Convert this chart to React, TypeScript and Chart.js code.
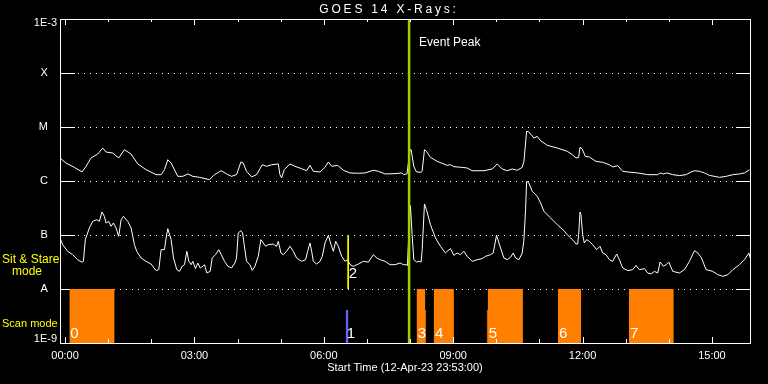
import React, { useEffect, useRef } from 'react';
import { Chart, registerables } from 'chart.js';

Chart.register(...registerables);

const FONT = '"Liberation Sans", Arial, sans-serif';

// Time axis: hours after 00:00 on 13-Apr-23 (plot starts 12-Apr-23 23:53:00)
const X_MIN = -7 / 60;
const X_MAX = 15 + 53 / 60;
const Y_MIN = 1e-9;
const Y_MAX = 1e-3;

// GOES 14 long channel (upper curve)
const longTimes = [
  -0.117, 0.022, 0.216, 0.394, 0.487, 0.603, 0.758, 0.874, 0.951, 1.106, 1.245, 1.377, 1.532, 1.686, 1.88,
  2.112, 2.228, 2.306, 2.383, 2.46, 2.615, 2.731, 2.847, 2.963, 3.118, 3.35, 3.466, 3.621, 3.776,
  3.861, 3.977, 4.078, 4.132, 4.209, 4.326, 4.442, 4.573, 4.674, 4.79, 4.945, 4.983, 5.022, 5.084, 5.216,
  5.332, 5.486, 5.603, 5.68, 5.757, 5.912, 6.028, 6.106, 6.183, 6.322, 6.454, 6.609, 6.802, 6.957, 7.15,
  7.267, 7.421, 7.653, 7.808, 7.855, 7.93, 8.0, 8.025, 8.087, 8.149, 8.257, 8.28, 8.335, 8.381, 8.474,
  8.629, 8.861, 8.938, 9.016, 9.209, 9.325, 9.441, 9.712, 9.906, 10.022, 10.138, 10.254, 10.37, 10.486,
  10.602, 10.641, 10.703, 10.757, 10.873, 10.95, 11.028, 11.183, 11.415, 11.647, 11.763,
  11.848, 11.91, 11.941, 11.988, 12.065, 12.158, 12.313, 12.467, 12.622, 12.7, 12.816, 12.932, 13.048,
  13.28, 13.512, 13.744, 13.799, 13.876, 13.953, 14.093, 14.247, 14.402, 14.518, 14.596, 14.712, 14.828,
  14.944, 15.176, 15.331, 15.486, 15.64, 15.756, 15.872,
];
const longFlux = [
  2.67e-6, 2.15e-6, 1.79e-6, 1.47e-6, 1.87e-6, 2.67e-6, 3.16e-6, 4.08e-6, 3.44e-6, 3.3e-6, 2.67e-6, 3.8e-6, 3.16e-6, 2.07e-6, 1.62e-6,
  1.31e-6, 1.31e-6, 1.62e-6, 2.48e-6, 2.15e-6, 1.22e-6, 1.22e-6, 1.35e-6, 1.22e-6, 1.17e-6, 1.06e-6, 1.31e-6, 1.55e-6, 1.31e-6,
  1.22e-6, 1.31e-6, 2.25e-6, 2.15e-6, 1.51e-6, 1.19e-6, 1.31e-6, 2.0e-6, 1.87e-6, 2.0e-6, 2.07e-6, 1.31e-6, 1.14e-6, 1.62e-6, 2.07e-6,
  1.87e-6, 1.69e-6, 1.55e-6, 1.95e-6, 1.51e-6, 1.47e-6, 1.79e-6, 2.25e-6, 1.87e-6, 1.95e-6, 1.58e-6, 1.41e-6, 1.39e-6, 1.41e-6, 1.58e-6,
  1.51e-6, 1.35e-6, 1.37e-6, 1.41e-6, 1.31e-6, 1.36e-6, 3.8e-6, 3.8e-6, 1.87e-6, 1.47e-6, 1.45e-6, 1.51e-6, 3.8e-6, 3.54e-6, 2.74e-6,
  2.31e-6, 1.95e-6, 2.0e-6, 1.84e-6, 1.79e-6, 1.74e-6, 1.55e-6, 1.55e-6, 1.67e-6, 2.07e-6, 1.67e-6, 1.55e-6, 1.67e-6, 1.58e-6,
  1.79e-6, 2.31e-6, 8.32e-6, 8.07e-6, 6.25e-6, 6.71e-6, 5.58e-6, 4.57e-6, 4.08e-6, 3.54e-6, 3.08e-6,
  2.67e-6, 2.74e-6, 4.2e-6, 3.97e-6, 2.86e-6, 2.78e-6, 2.31e-6, 2.22e-6, 2.0e-6, 1.82e-6, 1.92e-6, 1.51e-6, 1.47e-6,
  1.41e-6, 1.31e-6, 1.31e-6, 1.41e-6, 1.35e-6, 1.41e-6, 1.31e-6, 1.26e-6, 1.31e-6, 1.47e-6, 1.55e-6, 1.51e-6, 1.41e-6,
  1.27e-6, 1.17e-6, 1.22e-6, 1.31e-6, 1.35e-6, 1.41e-6, 1.62e-6,
];

// GOES 14 short channel (lower curve)
const shortTimes = [
  -0.117, -0.055, 0.061, 0.177, 0.293, 0.394, 0.425, 0.471, 0.564, 0.642, 0.734, 0.796, 0.858, 0.912, 0.951,
  1.013, 1.067, 1.121, 1.183, 1.245, 1.3, 1.354, 1.454, 1.532, 1.609, 1.663, 1.764, 1.88, 1.996, 2.112, 2.174,
  2.228, 2.306, 2.344, 2.383, 2.46, 2.515, 2.592, 2.654, 2.716, 2.77, 2.824, 2.87, 2.925, 2.963, 3.025, 3.079,
  3.134, 3.196, 3.234, 3.288, 3.366, 3.412, 3.49, 3.567, 3.621, 3.699, 3.776,
  3.861, 3.939, 3.977, 4.016, 4.078, 4.117, 4.155, 4.209, 4.287, 4.341, 4.403, 4.48, 4.542, 4.596, 4.651,
  4.713, 4.829, 4.906, 4.945, 5.007, 5.061, 5.138, 5.216, 5.293, 5.37, 5.486, 5.579, 5.626, 5.68, 5.719,
  5.757, 5.835, 5.912, 5.966, 6.028, 6.106, 6.168, 6.222, 6.276, 6.338, 6.415, 6.492, 6.554, 6.609, 6.686,
  6.802, 6.918, 7.034, 7.15, 7.228, 7.305, 7.421, 7.537, 7.653, 7.769, 7.847,
  7.917, 7.94, 7.955, 8.01, 8.048, 8.087, 8.149, 8.203, 8.257, 8.28, 8.335, 8.381, 8.474, 8.59, 8.706,
  8.822, 8.861, 8.938, 9.016, 9.093, 9.17, 9.248, 9.325, 9.441, 9.557, 9.673, 9.751, 9.867, 9.929, 10.006,
  10.099, 10.177, 10.254, 10.331, 10.393, 10.448, 10.525, 10.6, 10.64, 10.68, 10.703, 10.757, 10.834, 10.95,
  11.028, 11.105, 11.26, 11.415, 11.57, 11.647, 11.725, 11.802,
  11.848, 11.887, 11.91, 11.941, 11.964, 12.003, 12.042, 12.096, 12.158, 12.235, 12.328, 12.405, 12.467,
  12.545, 12.622, 12.7, 12.792, 12.854, 12.932, 13.048, 13.164, 13.241, 13.319, 13.435, 13.512, 13.59,
  13.667, 13.744, 13.799, 13.876, 13.938, 14.0, 14.093, 14.247, 14.363, 14.479, 14.596, 14.673, 14.751,
  14.867, 15.021, 15.137, 15.254, 15.37, 15.486, 15.64, 15.756, 15.857, 15.888,
];
const shortFlux = [
  8.8e-8, 6.62e-8, 4.99e-8, 4.32e-8, 3.49e-8, 3.12e-8, 3.25e-8, 8.2e-8, 1.35e-7, 1.79e-7, 1.92e-7, 1.79e-7, 2.67e-7, 2.22e-7, 1.67e-7,
  1.79e-7, 1.45e-7, 1.67e-7, 1.35e-7, 9.44e-8, 1.92e-7, 2.22e-7, 1.79e-7, 1.35e-7, 6.62e-8, 4.99e-8, 3.75e-8, 3.25e-8, 2.9e-8, 2.19e-8, 2.28e-8,
  5.35e-8, 5.35e-8, 8.8e-8, 1.31e-7, 8.2e-8, 3.75e-8, 2.28e-8, 2.12e-8, 2.63e-8, 2.82e-8, 4.99e-8, 3.25e-8, 2.82e-8, 3.25e-8, 2.38e-8, 3.03e-8,
  2.45e-8, 2.63e-8, 2.82e-8, 1.98e-8, 2.12e-8, 3.75e-8, 4.32e-8, 5.35e-8, 4.32e-8, 3.25e-8, 2.63e-8,
  2.45e-8, 3.03e-8, 3.75e-8, 1.09e-7, 1.2e-7, 1.09e-7, 6.62e-8, 3.25e-8, 2.82e-8, 2.22e-8, 2.63e-8, 4.03e-8, 8.2e-8, 7.11e-8, 6.17e-8,
  6.62e-8, 6.81e-8, 6.17e-8, 7.63e-8, 4.65e-8, 4.32e-8, 4.99e-8, 6.17e-8, 4.99e-8, 3.75e-8, 3.25e-8, 3.49e-8, 4.99e-8, 7.11e-8, 4.99e-8,
  3.25e-8, 2.9e-8, 3.25e-8, 4.03e-8, 7.11e-8, 9.86e-8, 6.62e-8, 4.99e-8, 7.63e-8, 6.17e-8, 4.03e-8, 3.25e-8, 3.49e-8, 2.82e-8, 2.63e-8,
  2.9e-8, 3.25e-8, 3.15e-8, 4.32e-8, 3.75e-8, 3.49e-8, 3.25e-8, 2.82e-8, 2.82e-8, 3.03e-8, 2.82e-8,
  2.82e-8, 2.7e-8, 5.35e-8, 3.5e-7, 1.01e-7, 3.49e-8, 3.16e-8, 3.25e-8, 3.16e-8, 4.99e-8, 3.75e-7, 2.94e-7, 1.55e-7, 8.8e-8, 6.17e-8,
  4.65e-8, 4.99e-8, 5.58e-8, 4.2e-8, 4.65e-8, 4.32e-8, 4.99e-8, 4.03e-8, 3.25e-8, 3.49e-8, 3.65e-8, 4.03e-8, 4.32e-8, 4.65e-8, 9.86e-8,
  5.74e-8, 3.75e-8, 3.49e-8, 3.86e-8, 4.65e-8, 3.75e-8, 3.49e-8, 4.6e-8, 8.0e-8, 3.0e-7, 9.86e-7, 9.18e-7, 6.44e-7, 5.2e-7,
  3.92e-7, 2.74e-7, 2.07e-7, 1.55e-7, 1.2e-7, 1.01e-7, 8.8e-8, 7.63e-8,
  6.81e-8, 6.81e-8, 1.01e-7, 2.67e-7, 2.38e-7, 1.01e-7, 7.11e-8, 8.2e-8, 7.63e-8, 6.62e-8, 5.35e-8, 6.17e-8, 4.65e-8,
  4.32e-8, 3.49e-8, 3.25e-8, 4.45e-8, 3.49e-8, 2.45e-8, 2.19e-8, 2.28e-8, 2.74e-8, 2.28e-8, 2.38e-8, 1.98e-8, 1.9e-8,
  2.12e-8, 1.98e-8, 3.16e-8, 2.63e-8, 2.82e-8, 3.16e-8, 2.12e-8, 1.98e-8, 2.28e-8, 3.25e-8, 5.13e-8, 4.65e-8, 3.86e-8,
  2.28e-8, 2.12e-8, 1.84e-8, 1.72e-8, 1.84e-8, 2.28e-8, 2.82e-8, 3.49e-8, 4.65e-8, 3.75e-8,
];

// Axis ticks
const yTickValues = [1e-9, 1e-8, 1e-7, 1e-6, 1e-5, 1e-4, 1e-3];
const yTickLabels = ['1E-9', 'A', 'B', 'C', 'M', 'X', '1E-3'];
const xTickHours = [0, 1, 2, 3, 4, 5, 6, 7, 8, 9, 10, 11, 12, 13, 14, 15];
const xTickLabels = ['00:00', '', '', '03:00', '', '', '06:00', '', '', '09:00', '', '', '12:00', '', '', '15:00'];

// Scan mode intervals (orange)
const scanStarts = [0.1, 8.157, 8.553, 9.805, 11.43, 13.078];
const scanEnds = [1.145, 8.35, 9.016, 10.617, 11.965, 14.116];
const scanLabels = ['0', '3', '4', '5', '6', '7'];
const scanLevel = 1e-8;
// short partial scan flags (orange, half height)
const partialStarts = [8.35, 9.782];
const partialEnds = [8.372, 9.805];
const partialLevel = 4.1e-9;
// scan 1 (blue)
const blueStarts = [6.508];
const blueEnds = [6.571];
const blueLabels = ['1'];
const blueLevel = 4.1e-9;
// sit & stare marker 2 (yellow)
const stareTimes = [6.566];
const stareLabels = ['2'];
const stareTop = 1e-7;
const stareBottom = 1e-8;
// event peak
const eventPeak = 7.978;

const COLORS = {
  orange: '#ff8000',
  blue: '#6464ff',
  yellow: '#ffff00',
  green: '#9fd000',
  white: '#ffffff',
};

function outline(starts: number[], ends: number[], level: number) {
  const pts: { x: number; y: number }[] = [];
  starts.forEach((s, i) => {
    pts.push({ x: s, y: Y_MIN }, { x: s, y: level }, { x: ends[i], y: level }, { x: ends[i], y: Y_MIN });
  });
  return pts;
}

const decor = {
  id: 'decor',
  beforeDatasetsDraw(chart: any) {
    const { ctx, chartArea: a, scales } = chart;
    const y = scales.y;
    ctx.save();
    ctx.fillStyle = COLORS.white;
    yTickValues.forEach((v) => {
      if (v === Y_MIN || v === Y_MAX) return;
      const py = Math.round(y.getPixelForValue(v));
      ctx.fillRect(a.left, py, 15, 1);
      ctx.fillRect(a.right - 14, py, 14, 1);
      for (let px = a.left + 18; px < a.right - 15; px += 6) ctx.fillRect(px, py, 1, 1);
    });
    ctx.restore();
  },
  afterDatasetsDraw(chart: any) {
    const { ctx, chartArea: a, scales } = chart;
    const x = scales.x;
    const y = scales.y;
    ctx.save();
    ctx.fillStyle = COLORS.white;
    // frame
    const w = Math.round(a.right - a.left);
    const h = Math.round(a.bottom - a.top);
    ctx.fillRect(a.left, a.top, w + 1, 1);
    ctx.fillRect(a.left, a.bottom, w + 1, 1);
    ctx.fillRect(a.left, a.top, 1, h + 1);
    ctx.fillRect(a.right, a.top, 1, h + 1);
    // hourly ticks
    xTickHours.forEach((hr, i) => {
      const px = Math.round(x.getPixelForValue(hr));
      const major = xTickLabels[i] !== '';
      ctx.fillRect(px, a.bottom - (major ? 6 : 4), 1, major ? 6 : 4);
      ctx.fillRect(px, a.top, 1, major ? 6 : 3);
    });
    // title
    ctx.font = `12px ${FONT}`;
    ctx.textAlign = 'center';
    ctx.textBaseline = 'middle';
    try {
      (ctx as any).letterSpacing = '2.8px';
    } catch (e) {
      /* ignore */
    }
    ctx.fillText('GOES 14 X-Rays:', 389, 10);
    try {
      (ctx as any).letterSpacing = '0px';
    } catch (e) {
      /* ignore */
    }
    // event peak label
    ctx.textAlign = 'left';
    ctx.fillText('Event Peak', x.getPixelForValue(eventPeak) + 10, a.top + 24);
    // scan numbers
    ctx.font = `15px ${FONT}`;
    ctx.textBaseline = 'alphabetic';
    scanStarts.forEach((s, i) => {
      ctx.fillText(scanLabels[i], x.getPixelForValue(s) + 1, a.bottom - 5);
    });
    blueStarts.forEach((s, i) => {
      ctx.fillText(blueLabels[i], x.getPixelForValue(s) + 1, a.bottom - 5);
    });
    stareTimes.forEach((t, i) => {
      ctx.fillText(stareLabels[i], x.getPixelForValue(t) + 0.5, y.getPixelForValue(stareBottom) - 11);
    });
    // mode labels
    ctx.fillStyle = COLORS.yellow;
    ctx.font = `12px ${FONT}`;
    ctx.fillText('Sit & Stare', 2, 263);
    ctx.fillText('mode', 12, 275);
    ctx.font = `11px ${FONT}`;
    ctx.fillText('Scan mode', 2, 327);
    ctx.restore();
  },
};

export default function App() {
  const ref = useRef<HTMLCanvasElement | null>(null);
  useEffect(() => {
    if (!ref.current) return;
    const longData = longTimes.map((t, i) => ({ x: t, y: longFlux[i] }));
    const shortData = shortTimes.map((t, i) => ({ x: t, y: shortFlux[i] }));
    const chart = new Chart(ref.current, {
      type: 'line',
      data: {
        datasets: [
          {
            data: [{ x: eventPeak, y: Y_MAX }, { x: eventPeak, y: Y_MIN }],
            borderColor: COLORS.green,
            borderWidth: 2.5,
            pointRadius: 0,
            fill: false,
          },
          {
            data: stareTimes.flatMap((t) => [{ x: t, y: stareTop }, { x: t, y: stareBottom }, { x: t, y: NaN }]),
            borderColor: COLORS.yellow,
            borderWidth: 1,
            pointRadius: 0,
            fill: false,
          },
          {
            data: longData,
            borderColor: COLORS.white,
            borderWidth: 1,
            pointRadius: 0,
            tension: 0,
            fill: false,
          },
          {
            data: shortData,
            borderColor: COLORS.white,
            borderWidth: 1,
            pointRadius: 0,
            tension: 0,
            fill: false,
          },
          {
            data: outline(blueStarts, blueEnds, blueLevel),
            borderWidth: 0,
            borderColor: 'rgba(0,0,0,0)',
            backgroundColor: COLORS.blue,
            pointRadius: 0,
            fill: 'start',
          },
          {
            data: outline(partialStarts, partialEnds, partialLevel),
            borderWidth: 0,
            borderColor: 'rgba(0,0,0,0)',
            backgroundColor: COLORS.orange,
            pointRadius: 0,
            fill: 'start',
          },
          {
            data: outline(scanStarts, scanEnds, scanLevel),
            borderWidth: 0,
            borderColor: 'rgba(0,0,0,0)',
            backgroundColor: COLORS.orange,
            pointRadius: 0,
            fill: 'start',
          },
        ],
      },
      options: {
        responsive: false,
        animation: false,
        devicePixelRatio: 1,
        layout: { padding: { top: 19, right: 18, left: 0, bottom: 0 } },
        plugins: {
          legend: { display: false },
          tooltip: { enabled: false },
          title: { display: false },
        },
        scales: {
          x: {
            type: 'linear',
            min: X_MIN,
            max: X_MAX,
            afterBuildTicks: (s: any) => {
              s.ticks = xTickHours.map((v) => ({ value: v }));
            },
            afterFit: (s: any) => {
              s.height = 41;
            },
            grid: { display: false, drawTicks: false },
            border: { display: false },
            ticks: {
              color: COLORS.white,
              font: { family: FONT, size: 11 },
              padding: 6,
              autoSkip: false,
              maxRotation: 0,
              callback: (_v: any, i: number) => xTickLabels[i],
            },
            title: {
              display: true,
              text: 'Start Time (12-Apr-23 23:53:00)',
              color: COLORS.white,
              font: { family: FONT, size: 11 },
              padding: { top: 0, bottom: 9 },
            },
          },
          y: {
            type: 'logarithmic',
            min: Y_MIN,
            max: Y_MAX,
            afterBuildTicks: (s: any) => {
              s.ticks = yTickValues.map((v) => ({ value: v }));
            },
            afterFit: (s: any) => {
              s.width = 60;
            },
            grid: { display: false, drawTicks: false },
            border: { display: false },
            ticks: {
              color: COLORS.white,
              font: { family: FONT, size: 11, lineHeight: 8 / 11 },
              padding: 3,
              autoSkip: false,
              callback: (_v: any, i: number) => {
                const lab = yTickLabels[i];
                if (i === yTickLabels.length - 1) return ['', lab];
                if (i === 0) return [lab, ''];
                return lab + '   ';
              },
            },
          },
        },
      },
      plugins: [decor],
    });
    return () => chart.destroy();
  }, []);
  return (
    <div style={{ position: 'fixed', left: 0, top: 0, width: 768, height: 384, background: '#000' }}>
      <canvas ref={ref} width={768} height={384} style={{ display: 'block' }} />
    </div>
  );
}
